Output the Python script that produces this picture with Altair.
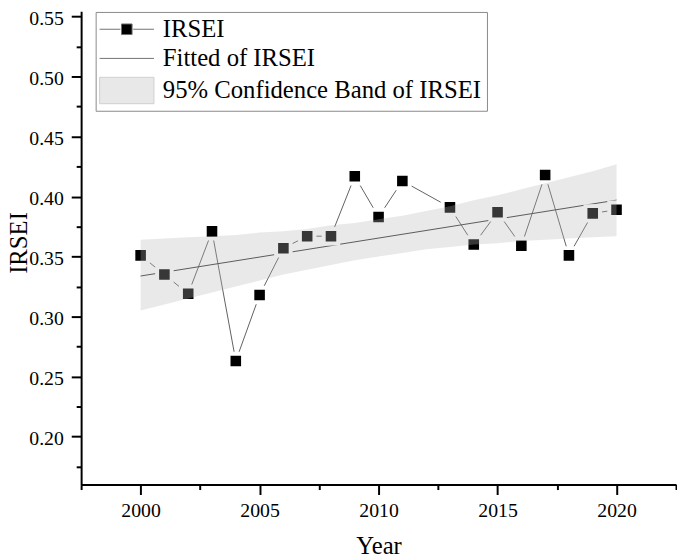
import altair as alt
import pandas as pd

# ---- data ----
years = [2000, 2001, 2002, 2003, 2004, 2005, 2006, 2007, 2008, 2009, 2010, 2011,
         2013, 2014, 2015, 2016, 2017, 2018, 2019, 2020]
irsei = [0.351, 0.335, 0.319, 0.371, 0.263, 0.318, 0.357, 0.367, 0.367, 0.417, 0.383, 0.413,
         0.391, 0.360, 0.387, 0.359, 0.418, 0.351, 0.386, 0.389]

band_years = [2000, 2001, 2002, 2003, 2004, 2005, 2006, 2007, 2008, 2009, 2010,
              2011, 2012, 2013, 2014, 2015, 2016, 2017, 2018, 2019, 2020]
band_lower = [0.305, 0.310, 0.315, 0.320, 0.325, 0.330, 0.335, 0.339, 0.343, 0.347, 0.350,
              0.353, 0.356, 0.358, 0.360, 0.361, 0.363, 0.364, 0.365, 0.366, 0.367]
band_upper = [0.364, 0.365, 0.366, 0.367, 0.368, 0.370, 0.371, 0.373, 0.376, 0.378, 0.381,
              0.384, 0.388, 0.392, 0.397, 0.401, 0.406, 0.411, 0.416, 0.421, 0.427]

x_major = [2000, 2005, 2010, 2015, 2020]
x_minor = [1997.5, 2002.5, 2007.5, 2012.5, 2017.5, 2022.5]
y_major = [0.20, 0.25, 0.30, 0.35, 0.40, 0.45, 0.50, 0.55]
y_minor = [0.175, 0.225, 0.275, 0.325, 0.375, 0.425, 0.475, 0.525]

legend_labels = ["IRSEI", "Fitted of IRSEI", "95% Confidence Band of IRSEI"]
legend_paths = [
    "M-2.75,0H-0.65M0.65,0H2.75M-0.535,-0.535H0.535V0.535H-0.535Z",
    "M-2.75,0H2.75",
    "M-2.75,-1.335H2.75V1.335H-2.75Z",
]
legend_fills = ["#000000", "transparent", "#e8e8e8"]
legend_strokes = ["#707070", "#707070", "#cfcfcf"]

FONT = "Liberation Serif"

pts = pd.DataFrame({"year": years, "irsei": irsei})
band = pd.DataFrame({"year": band_years, "lo": band_lower, "hi": band_upper})
leg = pd.DataFrame({"series": legend_labels})

xscale = alt.Scale(domain=[1997.5, 2022.5], nice=False, zero=False)
yscale = alt.Scale(domain=[0.16, 0.5544], nice=False, zero=False)

common_axis = dict(domainColor="black", domainWidth=2, tickColor="black", tickWidth=2,
                   grid=False, labelFont=FONT, labelFontSize=20, labelColor="black",
                   labelFlush=False, labelOverlap=False)

xaxis = alt.Axis(
    values=x_major, format="d", tickSize=10, orient="bottom",
    title="Year", titleFont=FONT, titleFontSize=25, titleFontWeight="normal",
    titleColor="black", titleY=70, titleBaseline="alphabetic",
    labelPadding=6, **common_axis,
)
yaxis = alt.Axis(
    values=y_major, format=".2f", tickSize=10, orient="left",
    title="IRSEI", titleFont=FONT, titleFontSize=25, titleFontWeight="normal",
    titleColor="black", titleX=-55, titleY=234, titleAngle=270,
    titleBaseline="alphabetic", titleAlign="center",
    labelPadding=8, labelOffset=2, **common_axis,
)
xaxis_minor = alt.Axis(values=x_minor, tickSize=5, orient="bottom", labels=False,
                       domain=False, title="", tickColor="black", tickWidth=2, grid=False)
yaxis_minor = alt.Axis(values=y_minor, tickSize=5, orient="left", labels=False,
                       domain=False, title="", tickColor="black", tickWidth=2, grid=False)

base = alt.Chart(pts)

connect = base.mark_line(color="#606060", strokeWidth=1).encode(
    x=alt.X("year:Q", scale=xscale, axis=xaxis),
    y=alt.Y("irsei:Q", scale=yscale, axis=yaxis),
)

fit = base.transform_regression("year", "irsei").mark_line(
    color="#333333", strokeWidth=1
).encode(
    x=alt.X("year:Q", scale=xscale, axis=None),
    y=alt.Y("irsei:Q", scale=yscale, axis=None),
)

markers = base.mark_point(
    shape="square", filled=True, size=216, fill="black", stroke="white",
    strokeWidth=4, opacity=1
).encode(
    x=alt.X("year:Q", scale=xscale, axis=None),
    y=alt.Y("irsei:Q", scale=yscale, axis=None),
)

band_layer = alt.Chart(band).mark_area(color="#b7b7b7", opacity=0.3).encode(
    x=alt.X("year:Q", scale=xscale, axis=xaxis_minor),
    y=alt.Y("lo:Q", scale=yscale, axis=yaxis_minor),
    y2="hi:Q",
)

legend = alt.Legend(
    title=None, orient="none", legendX=14.7, legendY=0.7, direction="vertical",
    symbolSize=400, symbolStrokeWidth=1, symbolOpacity=1, symbolOffset=14,
    labelFont=FONT, labelFontSize=25, labelColor="black", labelOffset=24,
    labelLimit=600, padding=5, rowPadding=3.5,
    strokeColor="#888888", fillColor="white",
)

legend_layer = alt.Chart(leg).mark_point(filled=True, opacity=0).encode(
    shape=alt.Shape("series:N", scale=alt.Scale(domain=legend_labels, range=legend_paths),
                    legend=legend, sort=legend_labels),
    fill=alt.Fill("series:N", scale=alt.Scale(domain=legend_labels, range=legend_fills),
                  legend=legend, sort=legend_labels),
    stroke=alt.Stroke("series:N", scale=alt.Scale(domain=legend_labels, range=legend_strokes),
                      legend=legend, sort=legend_labels),
)

chart = alt.layer(connect, fit, markers, band_layer, legend_layer).resolve_axis(
    x="independent", y="independent"
).properties(
    width=602, height=479,
    padding={"left": 74, "top": 0, "right": 1, "bottom": 73},
    autosize="none",
    background="white",
).configure_view(stroke="transparent").configure_axis(
    labelFont=FONT, titleFont=FONT
).configure_text(font=FONT)

chart.save("out.html", embed_options={"renderer": "svg", "actions": False})
